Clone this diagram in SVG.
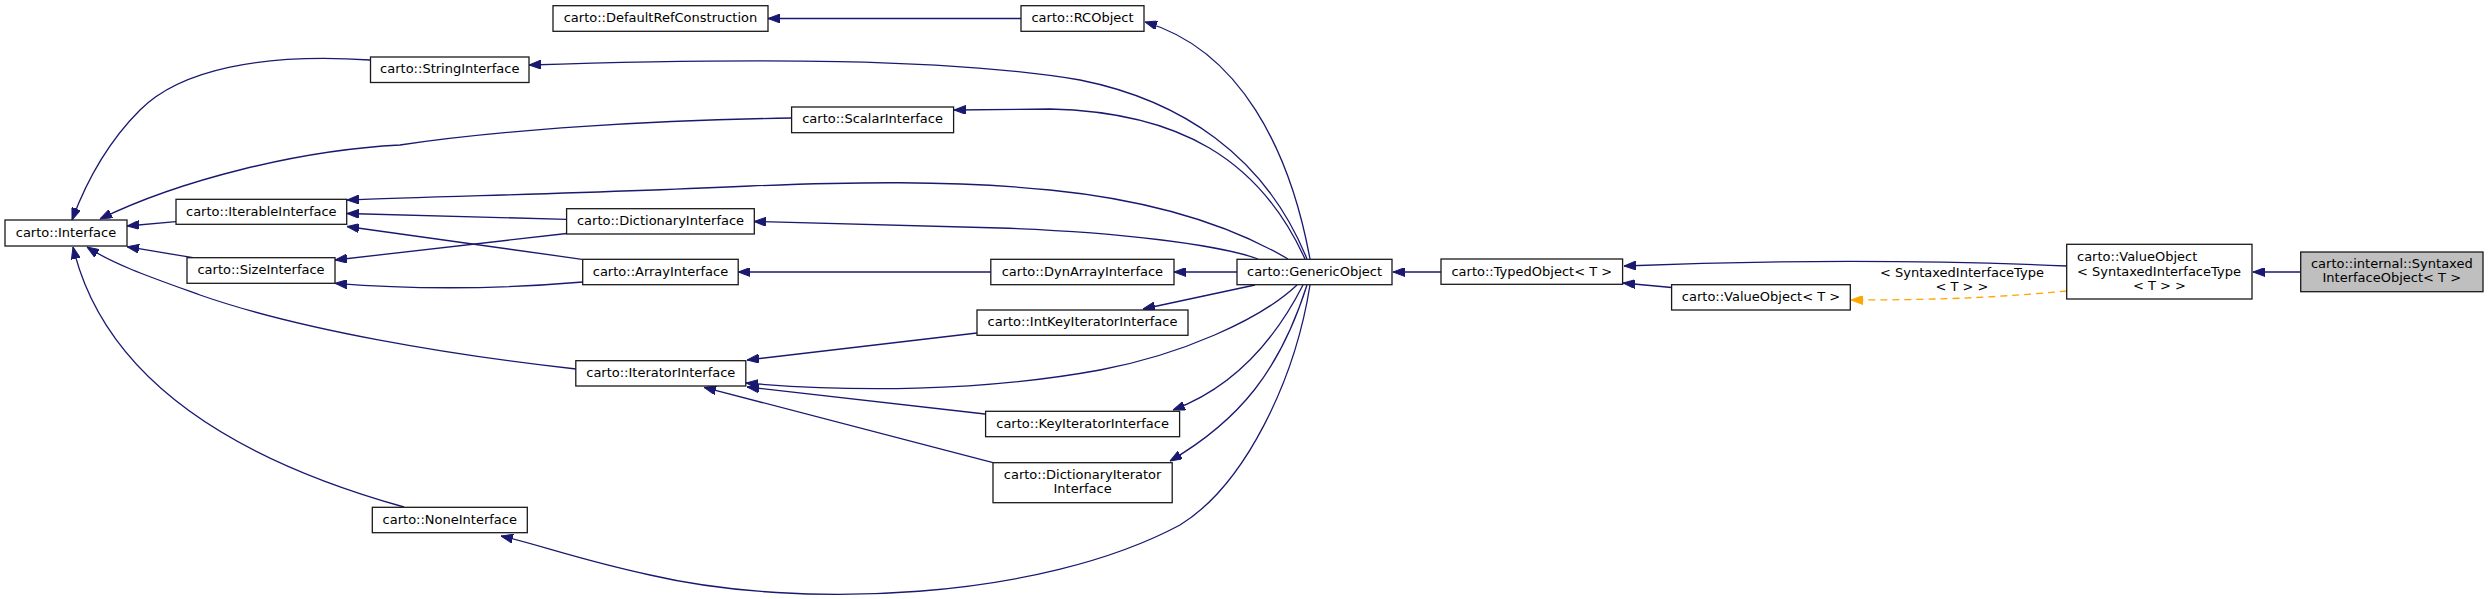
<svg xmlns="http://www.w3.org/2000/svg" width="2488" height="599" viewBox="0 0 2488 599">
<style>
.n rect{fill:#ffffff;stroke:#1a1a1a;stroke-width:1.3}
.n.cur rect{fill:#bfbfbf;stroke:#1a1a1a}
text{font-family:"DejaVu Sans","Liberation Sans",sans-serif;font-size:13px;fill:#000}
.c{text-anchor:middle}
.e path{fill:none;stroke:#191970;stroke-width:1.3;marker-end:url(#ah)}
.e path.t{stroke:#ffa500;stroke-dasharray:7,5;marker-end:url(#aho)}
</style>
<defs>
<marker id="ah" viewBox="0 0 12 9" refX="12" refY="4.5" markerWidth="12" markerHeight="9" markerUnits="userSpaceOnUse" orient="auto"><path d="M0,0 L12,4.5 L0,9 z" fill="#191970" stroke="#191970"/></marker>
<marker id="aho" viewBox="0 0 12 9" refX="12" refY="4.5" markerWidth="12" markerHeight="9" markerUnits="userSpaceOnUse" orient="auto"><path d="M0,0 L12,4.5 L0,9 z" fill="#ffa500" stroke="#ffa500"/></marker>
</defs>
<rect width="2488" height="599" fill="#ffffff"/>
<g id="edges" class="e">
<path d="M1021,18.5 L768,18.5"/>
<path d="M1310,259 C1290,150 1240,50 1145,22"/>
<path d="M1307,259 C1265,155 1180,100 1080,80 C950,58 750,58 529,65"/>
<path d="M1305,259 C1260,160 1180,112 1050,109 L954,110"/>
<path d="M1288,259 C1230,225 1150,200 1050,190 C950,180 850,182 750,186 C600,193 450,196 347,200"/>
<path d="M1258,259 C1220,245 1120,232 1000,228 L754,221.5"/>
<path d="M1237,272 L1174,272"/>
<path d="M1255,285 L1143,309"/>
<path d="M1297,285 C1260,320 1180,355 1100,370 C980,392 850,392 746,383"/>
<path d="M1303,285 C1280,330 1240,385 1173,410"/>
<path d="M1307,285 C1280,370 1240,420 1170,461"/>
<path d="M1310,285 C1295,380 1245,485 1180,525 C1040,600 800,610 650,575 C580,560 540,545 501,536"/>
<path d="M1441,272 L1393,272"/>
<path d="M1671.6,287.5 L1623,283"/>
<path d="M2067,266 C1950,261 1800,259 1624,266"/>
<path class="t" d="M2067,291 C2000,297 1950,300 1851,300"/>
<path d="M2300.7,272 L2253,272"/>
<path d="M370,60 C260,53 180,70 140,110 C105,145 85,185 72,220"/>
<path d="M792,118 C650,120 500,130 400,145 C300,150 180,180 100,219"/>
<path d="M176,221.7 L127,226"/>
<path d="M193,257.7 L127,246.7"/>
<path d="M576,369 C450,355 300,330 200,295 C150,277 115,265 87,247"/>
<path d="M404,507 C200,450 100,360 73,247"/>
<path d="M566.6,219.3 L347,213.5"/>
<path d="M582,259.3 L347,226.5"/>
<path d="M566.6,233.5 L335,260"/>
<path d="M583,282 C500,289 420,290 335,283.3"/>
<path d="M990.8,272 L738.2,272"/>
<path d="M977,333 L747,360"/>
<path d="M985,414 L747,387"/>
<path d="M993,462.7 L704,387.3"/>
<text class="c" x="1962" y="276.5">&lt; SyntaxedInterfaceType</text>
<text class="c" x="1962" y="291">&lt; T &gt; &gt;</text>
</g>
<g id="n_interface" class="n"><rect x="5" y="220" width="122" height="26"/><text class="c" x="66" y="236.5">carto::Interface</text></g>
<g id="n_string" class="n"><rect x="370.5" y="57" width="158.5" height="25.5"/><text class="c" x="449.75" y="73.3">carto::StringInterface</text></g>
<g id="n_scalar" class="n"><rect x="791.6" y="107" width="162" height="25.7"/><text class="c" x="872.6" y="123.3">carto::ScalarInterface</text></g>
<g id="n_defref" class="n"><rect x="553" y="5.7" width="215" height="25.6"/><text class="c" x="660.5" y="22">carto::DefaultRefConstruction</text></g>
<g id="n_rcobject" class="n"><rect x="1021" y="5.7" width="123" height="25.6"/><text class="c" x="1082.5" y="22">carto::RCObject</text></g>
<g id="n_iterable" class="n"><rect x="176" y="199.3" width="170.7" height="25"/><text class="c" x="261.3" y="215.6">carto::IterableInterface</text></g>
<g id="n_size" class="n"><rect x="187" y="257.7" width="148" height="25.6"/><text class="c" x="261" y="274">carto::SizeInterface</text></g>
<g id="n_dict" class="n"><rect x="566.6" y="208.7" width="187.7" height="25.3"/><text class="c" x="660.5" y="225">carto::DictionaryInterface</text></g>
<g id="n_array" class="n"><rect x="582.7" y="259.3" width="155.5" height="25.4"/><text class="c" x="660.5" y="275.6">carto::ArrayInterface</text></g>
<g id="n_dynarray" class="n"><rect x="990.8" y="259.3" width="183.2" height="25.4"/><text class="c" x="1082.4" y="275.6">carto::DynArrayInterface</text></g>
<g id="n_generic" class="n"><rect x="1237" y="259.3" width="155" height="25.4"/><text class="c" x="1314.5" y="275.6">carto::GenericObject</text></g>
<g id="n_intkey" class="n"><rect x="977" y="310" width="211" height="25.3"/><text class="c" x="1082.5" y="326.3">carto::IntKeyIteratorInterface</text></g>
<g id="n_iterator" class="n"><rect x="575.8" y="360.7" width="170" height="25.3"/><text class="c" x="660.8" y="377">carto::IteratorInterface</text></g>
<g id="n_keyiter" class="n"><rect x="985.6" y="411.3" width="194" height="25.4"/><text class="c" x="1082.6" y="427.6">carto::KeyIteratorInterface</text></g>
<g id="n_dictiter" class="n"><rect x="993" y="462.7" width="179.2" height="40"/><text class="c" x="1082.6" y="479.4">carto::DictionaryIterator</text><text class="c" x="1082.6" y="493.4">Interface</text></g>
<g id="n_none" class="n"><rect x="372.3" y="507.3" width="155" height="25.4"/><text class="c" x="449.8" y="523.6">carto::NoneInterface</text></g>
<g id="n_typed" class="n"><rect x="1441" y="259" width="181.6" height="25.3"/><text class="c" x="1531.8" y="275.5">carto::TypedObject&lt; T &gt;</text></g>
<g id="n_valueT" class="n"><rect x="1671.6" y="284.7" width="178.7" height="25.3"/><text class="c" x="1761" y="301">carto::ValueObject&lt; T &gt;</text></g>
<g id="n_valueS" class="n"><rect x="2066.7" y="244.3" width="185.3" height="54.7"/><text x="2077" y="261">carto::ValueObject</text><text x="2077" y="275.5">&lt; SyntaxedInterfaceType</text><text class="c" x="2159.4" y="290">&lt; T &gt; &gt;</text></g>
<g id="n_syntaxed" class="n cur"><rect x="2300.7" y="252" width="182.3" height="39.7"/><text class="c" x="2391.8" y="267.7">carto::internal::Syntaxed</text><text class="c" x="2391.8" y="282">InterfaceObject&lt; T &gt;</text></g>
</svg>
